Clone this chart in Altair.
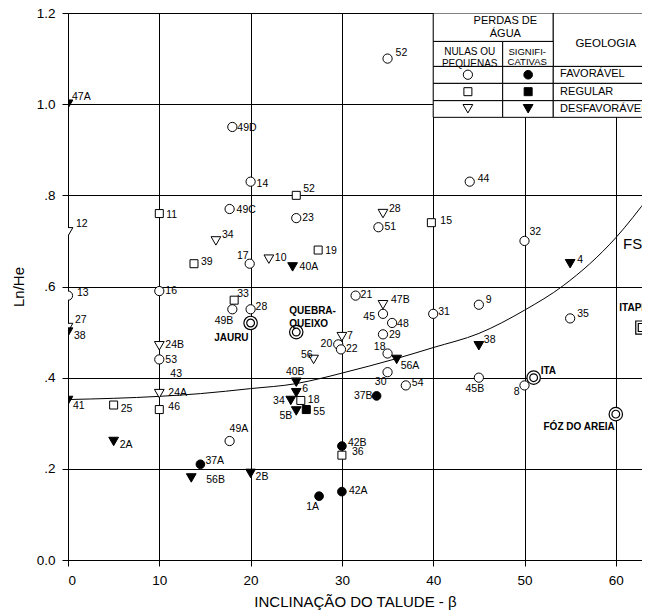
import altair as alt
import pandas as pd

FONT = "Liberation Sans, Arial, Helvetica, sans-serif"

# ---------------- data ----------------
# open circles (nulas ou pequenas / favoravel)
oc_labels = ["52", "44", "49D", "14", "49C", "23", "17", "13", "16", "49B", "28", "53", "21", "51",
             "32", "45", "31", "9", "48", "35", "29", "20", "22", "18", "30", "45B", "8", "54", "49A"]
oc_x = [35.0, 44.0, 18.0, 20.0, 17.7, 25.0, 19.9, 0.0, 10.0, 18.0, 20.0, 10.0, 31.5, 34.0,
        50.0, 34.5, 40.0, 45.0, 35.5, 55.0, 34.5, 29.6, 29.9, 35.0, 35.0, 45.0, 50.0, 37.0, 17.7]
oc_y = [1.10, 0.83, 0.95, 0.83, 0.77, 0.75, 0.65, 0.58, 0.59, 0.55, 0.55, 0.44, 0.58, 0.73,
        0.70, 0.54, 0.54, 0.56, 0.52, 0.53, 0.495, 0.473, 0.462, 0.453, 0.412, 0.40, 0.383, 0.383, 0.261]

# open squares (nulas ou pequenas / regular)
os_labels = ["52", "11", "39", "19", "33", "15", "25", "46", "18", "36"]
os_x = [25.0, 10.0, 13.8, 27.4, 18.2, 39.8, 5.0, 10.0, 25.5, 30.0]
os_y = [0.80, 0.76, 0.65, 0.68, 0.57, 0.74, 0.34, 0.33, 0.35, 0.23]

# open triangles (nulas ou pequenas / desfavoravel)
ot_labels = ["12", "34", "10", "27", "24B", "56", "28", "47B", "7", "24A"]
ot_x = [0.0, 16.2, 22.0, 0.0, 10.0, 26.9, 34.5, 34.5, 30.0, 10.0]
ot_y = [0.72, 0.70, 0.66, 0.51, 0.47, 0.44, 0.76, 0.56, 0.49, 0.365]

# filled circles (significativas / favoravel)
fc_labels = ["37A", "1A", "37B", "42B", "42A"]
fc_x = [14.5, 27.5, 33.8, 30.0, 30.0]
fc_y = [0.21, 0.14, 0.36, 0.25, 0.15]

# filled squares (significativas / regular)
fs_labels = ["55"]
fs_x = [26.1]
fs_y = [0.33]

# filled triangles (significativas / desfavoravel)
ft_labels = ["47A", "40A", "38", "41", "2A", "56B", "2B", "4", "56A", "38", "40B", "6", "34", "5B"]
ft_x = [0.0, 24.6, 0.0, 0.0, 5.0, 13.5, 20.0, 55.0, 36.0, 45.0, 25.0, 25.0, 24.4, 25.0]
ft_y = [1.00, 0.643, 0.50, 0.35, 0.26, 0.18, 0.19, 0.65, 0.44, 0.47, 0.39, 0.367, 0.35, 0.327]

# label without a visible marker
lone_labels = ["43"]
lone_x = [10.0]
lone_y = [0.40]

# dams (double circle / double square)
dam_labels = ["JAURU", "QUEBRA-\nQUEIXO", "ITA", "FÓZ DO AREIA"]
dam_x = [20.0, 25.0, 51.0, 60.0]
dam_y = [0.52, 0.50, 0.40, 0.32]
sq_dam_labels = ["ITAPEBI"]
sq_dam_x = [62.9]
sq_dam_y = [0.51]

# curve FS
fs_curve_x = [0, 10, 14.5, 20, 25, 27.6, 30, 36, 40, 45, 50, 54.25, 60, 63.75]
fs_curve_y = [0.352, 0.359, 0.365, 0.376, 0.387, 0.398, 0.410, 0.442, 0.466, 0.497, 0.548, 0.602, 0.707, 0.80]

# ---------------- label placement (pixel offsets) ----------------
oc_lab = [(8, -6, "left"), (8, -3, "left"), (5, 1, "left"), (6, 2, "left"), (7, 1, "left"), (6, 0, "left"),
          (-1, -8, "right"), (9, -3, "left"), (6, 0, "left"), (1, 12, "right"), (5, -2, "left"), (6, 1, "left"),
          (5, -1, "left"), (6, 0, "left"), (5, -9, "left"), (-8, 3, "right"), (5, -2, "left"), (7, -5, "left"),
          (5, 1, "left"), (7, -4, "left"), (6, 1, "left"), (-6, 0, "right"), (5, 0, "left"), (-2, -7, "right"),
          (-1, 10, "right"), (-4, 11, "center"), (-5, 7, "right"), (6, -2, "left"), (0, -12, "left")]
os_lab = [(7, -6, "left"), (7, 1, "left"), (7, -2, "left"), (7, 1, "left"), (3, -6, "left"), (9, -2, "left"),
          (7, 4, "left"), (9, -3, "left"), (7, 0, "left"), (10, -3, "left")]
ot_lab = [(8, -8, "left"), (6, -6, "left"), (6, -1, "left"), (7, -8, "left"), (6, -1, "left"), (-1, -4, "right"),
          (6, -5, "left"), (8, -5, "left"), (5, -1, "left"), (9, -1, "left")]
fc_lab = [(5, -3, "left"), (0, 11, "right"), (-4, 0, "right"), (6, -3, "left"), (7, -1, "left")]
fs_lab = [(7, 2, "left")]
ft_lab = [(4, -7, "left"), (7, 0, "left"), (6, 4, "left"), (5, 6, "left"), (6, 4, "left"), (15, 2, "left"),
          (5, 4, "left"), (7, -4, "left"), (4, 7, "left"), (5, -6, "left"), (-1, -10, "center"), (6, -4, "left"),
          (-6, 1, "right"), (-4, 5, "right")]
lone_lab = [(11, -4, "left")]
dam_lab = [(-2, 15, "right"), (-7, -21, "left"), (7, -7, "left"), (-1, 13, "right")]
sq_dam_lab = [(-23, -20, "left")]

rows = []


def add(group, labels, xs, ys, labs):
    for l, x, y, o in zip(labels, xs, ys, labs):
        rows.append(dict(group=group, label=l, x=x, y=y, dx=o[0], dy=o[1], align=o[2]))


add("oc", oc_labels, oc_x, oc_y, oc_lab)
add("os", os_labels, os_x, os_y, os_lab)
add("ot", ot_labels, ot_x, ot_y, ot_lab)
add("fc", fc_labels, fc_x, fc_y, fc_lab)
add("fs", fs_labels, fs_x, fs_y, fs_lab)
add("ft", ft_labels, ft_x, ft_y, ft_lab)
add("lone", lone_labels, lone_x, lone_y, lone_lab)
pts = pd.DataFrame(rows)

rows = []
add("dam", dam_labels, dam_x, dam_y, dam_lab)
add("sqdam", sq_dam_labels, sq_dam_x, sq_dam_y, sq_dam_lab)
dams = pd.DataFrame(rows)

curve = pd.DataFrame({"x": fs_curve_x, "y": fs_curve_y})
curve_lbl = pd.DataFrame({"x": [60.8], "y": [0.694], "t": ["FS=1,0"]})

# legend table (in data units)
leg_x_edges = [40.0, 47.61, 53.15, 66.0]
leg_y_edges = [1.2, 1.1376, 1.0828, 1.0456, 1.0077, 0.9711]
cells = [
    (leg_x_edges[0], leg_x_edges[2], leg_y_edges[1], leg_y_edges[0]),
    (leg_x_edges[2], leg_x_edges[3], leg_y_edges[2], leg_y_edges[0]),
    (leg_x_edges[0], leg_x_edges[1], leg_y_edges[2], leg_y_edges[1]),
    (leg_x_edges[1], leg_x_edges[2], leg_y_edges[2], leg_y_edges[1]),
]
for r in range(3):
    for c in range(3):
        cells.append((leg_x_edges[c], leg_x_edges[c + 1], leg_y_edges[3 + r], leg_y_edges[2 + r]))
leg_cells = pd.DataFrame(cells, columns=["x", "x1", "y", "y1"])

leg_text = pd.DataFrame({
    "t": ["PERDAS DE", "ÁGUA", "NULAS OU", "PEQUENAS", "SIGNIFI-", "CATIVAS", "GEOLOGIA",
          "FAVORÁVEL", "REGULAR", "DESFAVORÁVEL"],
    "x": [47.9, 47.9, 44.0, 44.0, 50.3, 50.3, 58.9, 53.9, 53.9, 53.9],
    "y": [1.183, 1.155, 1.1135, 1.089, 1.1135, 1.0935, 1.1325, 1.0655, 1.0267, 0.990],
    "fs": [11, 11, 10, 10, 9.5, 9.5, 11.5, 11, 11, 11],
    "align": ["center"] * 7 + ["left"] * 3,
})
leg_sym = pd.DataFrame({
    "group": ["oc", "fc", "os", "fs", "ot", "ft"],
    "x": [43.8, 50.4, 43.8, 50.4, 43.8, 50.4],
    "y": [1.0646, 1.0646, 1.0274, 1.0274, 0.990, 0.990],
})

# ---------------- chart ----------------
PXU = 9.13            # pixels per x unit
W, H = 574, 547
XMAX, YMAX = W / PXU, 1.2
KX = XMAX / W   # data units per pixel
KY = YMAX / H

XS = alt.Scale(domain=[0, XMAX], nice=False, zero=False)
YS = alt.Scale(domain=[0, YMAX], nice=False, zero=False)
xaxis = alt.Axis(values=[0, 10, 20, 30, 40, 50, 60], grid=True, gridColor="black", gridWidth=1,
                 domainColor="black", tickColor="black", tickSize=6, labelFont=FONT, labelFontSize=13.5,
                 labelColor="black", labelPadding=7, title="INCLINAÇÃO DO TALUDE  - β",
                 titleFont=FONT, titleFontSize=15, titleFontWeight="normal", titleColor="black",
                 titlePadding=8)
yaxis = alt.Axis(values=[0, 0.2, 0.4, 0.6, 0.8, 1.0, 1.2], grid=True, gridColor="black", gridWidth=1,
                 domainColor="black", tickColor="black", tickSize=6, labelFont=FONT, labelFontSize=13.5,
                 labelColor="black", labelPadding=7,
                 labelExpr="datum.value < 0.01 ? '0.0' : datum.value > 0.99 ? format(datum.value, '.1f') : replace(format(datum.value, '.1f'), '0.', '.')",
                 title="Ln/He", titleFont=FONT, titleFontSize=15, titleFontWeight="normal",
                 titleColor="black", titlePadding=10)


def X(f):
    return alt.X(f, type="quantitative", scale=XS, axis=xaxis)


def Y(f):
    return alt.Y(f, type="quantitative", scale=YS, axis=yaxis)


layers = []
layers.append(alt.Chart(curve).mark_line(color="black", strokeWidth=1, interpolate="monotone", clip=True)
              .encode(x=X("x"), y=Y("y")))
layers.append(alt.Chart(curve_lbl).mark_text(align="left", baseline="middle", font=FONT, fontSize=15,
                                             color="black", clip=True)
              .encode(x=X("x"), y=Y("y"), text="t:N"))

styles = {
    "oc": ("circle", "white", 85),
    "os": ("square", "white", 64),
    "ot": ("triangle-down", "white", 95),
    "fc": ("circle", "black", 75),
    "fs": ("square", "black", 64),
    "ft": ("triangle-down", "black", 95),
}
for g, (shape, fill, size) in styles.items():
    layers.append(alt.Chart(pts).transform_filter(alt.datum.group == g)
                  .mark_point(shape=shape, filled=True, fill=fill, stroke="black", strokeWidth=1,
                              size=size, opacity=1, clip=True)
                  .encode(x=X("x"), y=Y("y")))

# dams
for g, shape, sizes in [("dam", "circle", (180, 60)), ("sqdam", "square", (170, 64))]:
    for s in sizes:
        layers.append(alt.Chart(dams).transform_filter(alt.datum.group == g)
                      .mark_point(shape=shape, filled=True, fill="white", stroke="black", strokeWidth=1.2,
                                  size=s, opacity=1, clip=True)
                      .encode(x=X("x"), y=Y("y")))

lx = f"datum.x + datum.dx * {KX}"
ly = f"datum.y - datum.dy * {KY}"
for a in ["left", "right", "center"]:
    layers.append(alt.Chart(pts).transform_filter(alt.datum.align == a)
                  .transform_calculate(lx=lx, ly=ly)
                  .mark_text(align=a, baseline="middle", font=FONT, fontSize=10.5, color="black", clip=True)
                  .encode(x=X("lx"), y=Y("ly"), text="label:N"))
    layers.append(alt.Chart(dams).transform_filter(alt.datum.align == a)
                  .transform_calculate(lx=lx, ly=ly)
                  .mark_text(align=a, baseline="middle", font=FONT, fontSize=10, fontWeight="bold",
                             color="black", clip=True, lineBreak="\n", lineHeight=12.5)
                  .encode(x=X("lx"), y=Y("ly"), text="label:N"))

# legend table
layers.append(alt.Chart(leg_cells).mark_rect(fill="white", stroke="black", strokeWidth=1, clip=True)
              .encode(x=X("x"), x2=alt.X2("x1"), y=Y("y"), y2=alt.Y2("y1")))
for a in ["center", "left"]:
    layers.append(alt.Chart(leg_text).transform_filter(alt.datum.align == a)
                  .mark_text(align=a, baseline="middle", font=FONT, color="black", clip=True)
                  .encode(x=X("x"), y=Y("y"), text="t:N", size=alt.Size("fs:Q", scale=None)))
for g, (shape, fill, size) in styles.items():
    layers.append(alt.Chart(leg_sym).transform_filter(alt.datum.group == g)
                  .mark_point(shape=shape, filled=True, fill=fill, stroke="black", strokeWidth=1,
                              size=size, opacity=1, clip=True)
                  .encode(x=X("x"), y=Y("y")))

chart = (alt.layer(*layers)
         .properties(width=W, height=H,
                     padding={"left": 60, "top": 5, "right": 0, "bottom": 50},
                     autosize=alt.AutoSizeParams(type="none"))
         .configure_view(stroke=None)
         .configure(background="white"))

chart.save("out.html", embed_options={"renderer": "svg", "actions": False})
